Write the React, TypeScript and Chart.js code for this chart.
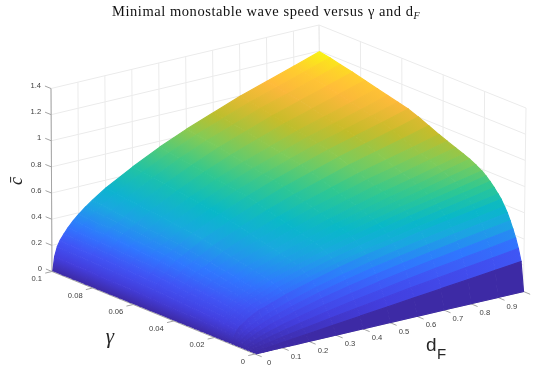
import React, { useEffect, useRef } from "react";
import { Chart, registerables } from "chart.js";

Chart.register(...registerables);

const gammaValues = [0, 0.0014, 0.0028, 0.0042, 0.0056, 0.007, 0.0084, 0.0098, 0.0115, 0.013, 0.015, 0.017, 0.019, 0.021, 0.024, 0.027, 0.03, 0.034, 0.038, 0.042, 0.047, 0.052, 0.057, 0.062, 0.067, 0.072, 0.078, 0.084, 0.09, 0.095, 0.1];
const dfValues = [0.003, 0.01, 0.02, 0.03, 0.045, 0.06, 0.08, 0.1, 0.125, 0.15, 0.2, 0.3, 0.4, 0.5, 0.6, 0.7, 0.8, 0.9, 0.995];
const speedTable = [
  [0, 0, 0, 0, 0, 0, 0, 0, 0, 0, 0, 0, 0, 0, 0, 0, 0, 0, 0],
  [0, .002, .004, .007, .010, .013, .018, .022, .028, .033, .044, .066, .088, .110, .132, .154, .176, .198, .22],
  [0, .006, .011, .016, .022, .028, .036, .044, .053, .062, .079, .111, .142, .172, .201, .229, .256, .283, .31],
  [0, .012, .020, .027, .037, .046, .057, .068, .080, .092, .114, .154, .191, .226, .259, .291, .321, .351, .38],
  [0, .019, .031, .040, .054, .065, .079, .092, .107, .121, .147, .194, .236, .275, .311, .345, .378, .410, .44],
  [0, .029, .044, .056, .072, .087, .103, .119, .137, .152, .183, .235, .280, .322, .360, .397, .431, .464, .495],
  [0, .038, .056, .071, .090, .107, .126, .143, .163, .181, .214, .271, .320, .365, .405, .443, .479, .513, .545],
  [0, .046, .068, .085, .106, .125, .146, .165, .187, .206, .241, .302, .353, .400, .442, .481, .517, .552, .585],
  [0, .057, .095, .120, .142, .164, .189, .211, .227, .246, .284, .343, .397, .444, .485, .526, .561, .595, .63],
  [0, .059, .099, .125, .149, .172, .198, .221, .238, .257, .297, .360, .416, .465, .508, .551, .587, .624, .66],
  [0, .063, .104, .132, .156, .181, .209, .233, .250, .271, .313, .379, .438, .490, .535, .580, .619, .657, .697],
  [0, .066, .110, .139, .164, .190, .219, .245, .263, .285, .329, .398, .460, .515, .562, .610, .650, .690, .73],
  [0, .068, .114, .144, .171, .198, .228, .255, .274, .296, .342, .414, .479, .536, .585, .635, .676, .718, .76],
  [0, .071, .118, .149, .177, .204, .236, .263, .283, .306, .353, .428, .495, .553, .604, .655, .699, .745, .785],
  [0, .072, .121, .153, .181, .209, .242, .270, .290, .314, .362, .439, .507, .568, .620, .672, .716, .767, .813],
  [0, .074, .124, .157, .186, .215, .248, .276, .297, .322, .371, .450, .520, .582, .635, .689, .734, .788, .837],
  [0, .077, .128, .162, .191, .221, .255, .285, .306, .332, .383, .463, .536, .599, .655, .710, .757, .808, .857],
  [0, .079, .131, .166, .197, .228, .263, .293, .315, .341, .394, .477, .551, .617, .674, .731, .779, .830, .88],
  [0, .081, .135, .171, .203, .234, .270, .302, .324, .351, .405, .491, .567, .635, .693, .752, .801, .853, .905],
  [0, .084, .140, .177, .209, .242, .279, .312, .335, .363, .419, .507, .586, .656, .716, .777, .828, .879, .93],
  [0, .087, .145, .183, .217, .251, .290, .323, .347, .376, .434, .526, .608, .680, .743, .806, .859, .912, .965],
  [0, .09, .15, .19, .225, .26, .30, .335, .36, .39, .45, .545, .63, .705, .77, .835, .89, .945, 1],
  [0, .093, .155, .196, .232, .268, .309, .345, .371, .402, .464, .561, .649, .726, .793, .860, .917, .973, 1.03],
  [0, .095, .158, .200, .236, .273, .315, .352, .378, .410, .473, .572, .662, .740, .809, .877, .935, .992, 1.05],
  [0, .096, .161, .203, .241, .278, .321, .358, .385, .417, .482, .583, .674, .754, .824, .893, .952, 1.011, 1.07],
  [0, .098, .164, .207, .245, .283, .327, .365, .392, .425, .491, .594, .687, .768, .839, .910, .970, 1.030, 1.09],
  [0, .100, .167, .212, .251, .290, .335, .374, .401, .435, .502, .608, .702, .786, .859, .931, .992, 1.054, 1.115],
  [0, .103, .171, .217, .257, .296, .342, .382, .410, .445, .513, .621, .718, .804, .878, .952, 1.015, 1.077, 1.14],
  [0, .104, .174, .215, .258, .296, .340, .377, .419, .456, .522, .632, .731, .818, .893, .969, 1.032, 1.096, 1.16],
  [0, .106, .177, .218, .262, .301, .346, .384, .426, .464, .531, .643, .743, .832, .909, .985, 1.050, 1.115, 1.18],
  [0, .108, .179, .221, .265, .305, .350, .388, .431, .470, .538, .651, .753, .842, .920, .998, 1.064, 1.129, 1.195],
];
const gammaTicks = [0, 0.02, 0.04, 0.06, 0.08, 0.1];
const gammaTickLabels = ["0", "0.02", "0.04", "0.06", "0.08", "0.1"];
const dfTicks = [0, 0.1, 0.2, 0.3, 0.4, 0.5, 0.6, 0.7, 0.8, 0.9];
const dfTickLabels = ["0", "0.1", "0.2", "0.3", "0.4", "0.5", "0.6", "0.7", "0.8", "0.9"];
const speedTicks = [0, 0.2, 0.4, 0.6, 0.8, 1, 1.2, 1.4];
const speedTickLabels = ["0", "0.2", "0.4", "0.6", "0.8", "1", "1.2", "1.4"];
const titleText = "Minimal monostable wave speed versus \u03b3 and d";

const GAMMA_MAX = 0.1;
const DF_MAX = 0.995;
const SPEED_MAX = 1.4;
const SPEED_TOP = 1.195;

// Screen positions of the eight corners of the 3D box [u=gamma, v=dF, w=speed]
const box: Record<string, [number, number]> = {
  "000": [255, 354], "100": [52, 271.5], "010": [523.5, 291.5], "110": [321.5, 207],
  "001": [253.5, 171], "101": [51, 88.5], "011": [526, 108], "111": [319, 25],
};

function project(g: number, d: number, c: number) {
  const u = g / GAMMA_MAX, v = d / DF_MAX, w = c / SPEED_MAX;
  let x = 0, y = 0;
  for (const a of [0, 1]) for (const b of [0, 1]) for (const e of [0, 1]) {
    const k = (a ? u : 1 - u) * (b ? v : 1 - v) * (e ? w : 1 - w);
    const p = box[`${a}${b}${e}`];
    x += k * p[0];
    y += k * p[1];
  }
  return { x, y };
}

const colorStops: [number, number, number, number][] = [
  [0, 61, 42, 165],
  [0.09, 67, 62, 222],
  [0.18, 64, 84, 245],
  [0.27, 47, 120, 255],
  [0.38, 26, 168, 224],
  [0.47, 8, 184, 200],
  [0.58, 48, 200, 144],
  [0.68, 128, 204, 88],
  [0.77, 196, 188, 40],
  [0.87, 255, 184, 60],
  [0.94, 255, 208, 44],
  [1, 248, 248, 15],
];

function colorOf(c: number) {
  const t = Math.max(0, Math.min(1, c / SPEED_TOP));
  for (let i = 1; i < colorStops.length; i++) {
    const a = colorStops[i - 1], b = colorStops[i];
    if (t <= b[0]) {
      const k = (t - a[0]) / (b[0] - a[0]);
      return `rgb(${a[1] + k * (b[1] - a[1])},${a[2] + k * (b[2] - a[2])},${a[3] + k * (b[3] - a[3])})`;
    }
  }
  return "rgb(248,248,15)";
}

const node = (i: number, j: number) => project(gammaValues[i], dfValues[j], speedTable[i][j]);

function quadGradient(chart: any, i: number, j: number) {
  const sx = chart.scales.x, sy = chart.scales.y;
  if (!sx || !sy || !chart.chartArea || !Number.isFinite(sx.getPixelForValue(0))) return "rgba(0,0,0,0)";
  const pix = (p: { x: number; y: number }) => ({ x: sx.getPixelForValue(p.x), y: sy.getPixelForValue(p.y) });
  const a0 = pix(node(i, j)), a1 = pix(node(i + 1, j));
  const b0 = pix(node(i, j + 1)), b1 = pix(node(i + 1, j + 1));
  const ex = a1.x - a0.x + b1.x - b0.x, ey = a1.y - a0.y + b1.y - b0.y;
  const len = Math.hypot(ex, ey) || 1;
  const nx = -ey / len, ny = ex / len;
  const ax = (a0.x + a1.x) / 2, ay = (a0.y + a1.y) / 2;
  const bx = (b0.x + b1.x) / 2, by = (b0.y + b1.y) / 2;
  const dot = (bx - ax) * nx + (by - ay) * ny;
  const grad = chart.ctx.createLinearGradient(ax, ay, ax + nx * dot, ay + ny * dot);
  grad.addColorStop(0, colorOf(speedTable[i][j]));
  grad.addColorStop(1, colorOf(speedTable[i][j + 1]));
  return grad;
}

const GRID = "#ebebeb";
const AXIS = "#a3a3a3";

function lineSet(a: { x: number; y: number }, b: { x: number; y: number }, color: string, width = 1) {
  return {
    type: "scatter" as const,
    data: [a, b],
    showLine: true,
    borderColor: color,
    borderWidth: width,
    pointRadius: 0,
    fill: false,
    clip: false,
  };
}

function buildDatasets() {
  const paint: any[] = [];
  // walls
  for (const z of speedTicks) {
    paint.push(lineSet(project(GAMMA_MAX, 0, z), project(GAMMA_MAX, DF_MAX, z), GRID));
    paint.push(lineSet(project(GAMMA_MAX, DF_MAX, z), project(0, DF_MAX, z), GRID));
  }
  for (const d of dfTicks) paint.push(lineSet(project(GAMMA_MAX, d, 0), project(GAMMA_MAX, d, SPEED_MAX), GRID));
  for (const g of gammaTicks) paint.push(lineSet(project(g, DF_MAX, 0), project(g, DF_MAX, SPEED_MAX), GRID));
  paint.push(lineSet(project(GAMMA_MAX, DF_MAX, 0), project(GAMMA_MAX, DF_MAX, SPEED_MAX), GRID));
  // axes
  paint.push(lineSet(project(GAMMA_MAX, 0, 0), project(GAMMA_MAX, 0, SPEED_MAX), AXIS));
  paint.push(lineSet(project(0, 0, 0), project(GAMMA_MAX, 0, 0), AXIS));
  paint.push(lineSet(project(0, 0, 0), project(0, DF_MAX, 0), AXIS));
  for (const z of speedTicks) paint.push(lineSet(project(GAMMA_MAX, 0, z), project(GAMMA_MAX * 1.03, 0, z), AXIS));
  for (const g of gammaTicks) paint.push(lineSet(project(g, 0, 0), project(g, -0.025, 0), AXIS));
  for (const d of [...dfTicks, DF_MAX]) paint.push(lineSet(project(0, d, 0), project(-0.0033, d, 0), AXIS));
  // surface, far rows first
  for (let i = gammaValues.length - 2; i >= 0; i--) {
    for (let j = 0; j < dfValues.length - 1; j++) {
      const pts = [node(i, j), node(i, j + 1), node(i + 1, j + 1), node(i + 1, j)];
      const paintQuad = (ctx: any) => quadGradient(ctx.chart, i, j);
      paint.push({
        type: "scatter" as const,
        data: pts,
        showLine: true,
        tension: 0,
        fill: "shape",
        backgroundColor: paintQuad,
        borderColor: paintQuad,
        borderWidth: 1.2,
        pointRadius: 0,
        clip: false,
      });
    }
  }
  return paint.reverse();
}

const textPlugin = {
  id: "boxText",
  afterDraw(chart: any) {
    const { ctx, scales } = chart;
    const px = (p: { x: number; y: number }) => ({ x: scales.x.getPixelForValue(p.x), y: scales.y.getPixelForValue(p.y) });
    ctx.save();
    ctx.textBaseline = "middle";
    ctx.fillStyle = "#404040";
    ctx.font = '7.6px "Liberation Sans"';
    ctx.textAlign = "right";
    speedTicks.forEach((z, i) => {
      const p = px(project(GAMMA_MAX, 0, z));
      ctx.fillText(speedTickLabels[i], p.x - 10, p.y - 2.5);
    });
    gammaTicks.forEach((g, i) => {
      const p = px(project(g, 0, 0));
      ctx.fillText(gammaTickLabels[i], p.x - 10, p.y + 7.5);
    });
    ctx.textAlign = "center";
    dfTicks.forEach((d, i) => {
      const p = px(project(0, d, 0));
      ctx.fillText(dfTickLabels[i], p.x + 14, p.y + 9);
    });
    ctx.fillStyle = "#262626";
    // axis names
    ctx.font = 'italic 21px "Liberation Serif"';
    ctx.fillText("\u03b3", 110, 337);
    ctx.font = '19px "Liberation Sans"';
    ctx.textAlign = "left";
    ctx.fillText("d", 426, 346);
    ctx.font = '15px "Liberation Sans"';
    ctx.fillText("F", 437, 355);
    ctx.save();
    ctx.translate(17, 181);
    ctx.rotate(-Math.PI / 2);
    ctx.textAlign = "center";
    ctx.font = 'italic 18px "Liberation Serif"';
    ctx.fillText("c\u0304", 0, 0);
    ctx.restore();
    // title
    ctx.fillStyle = "#111111";
    ctx.font = '14.5px "Liberation Serif"';
    ctx.textAlign = "left";
    ctx.letterSpacing = "0.55px";
    ctx.fillText(titleText, 112, 12.5);
    const w = ctx.measureText(titleText).width;
    ctx.letterSpacing = "0px";
    ctx.font = 'italic 10px "Liberation Serif"';
    ctx.fillText("F", 112 + w, 16);
    ctx.restore();
  },
};

export default function App() {
  const ref = useRef<HTMLCanvasElement>(null);
  useEffect(() => {
    document.body.style.margin = "0";
    document.body.style.background = "#ffffff";
    const chart = new Chart(ref.current!, {
      type: "scatter",
      data: { datasets: buildDatasets() },
      options: {
        animation: false,
        responsive: false,
        layout: { padding: 0 },
        scales: {
          x: { type: "linear", min: 0, max: 535, display: false },
          y: { type: "linear", min: 0, max: 368, reverse: true, display: false },
        },
        plugins: { legend: { display: false }, tooltip: { enabled: false } },
        events: [],
      },
      plugins: [textPlugin],
    } as any);
    return () => chart.destroy();
  }, []);
  return <canvas ref={ref} width={535} height={368} style={{ display: "block" }} />;
}
